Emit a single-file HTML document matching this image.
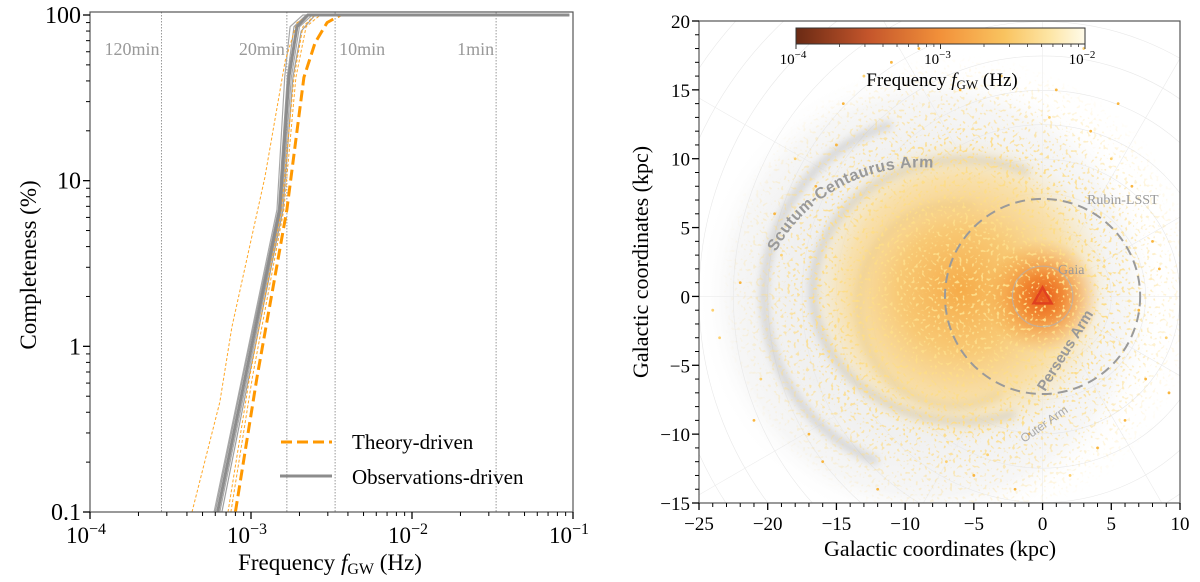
<!DOCTYPE html>
<html><head><meta charset="utf-8"><style>
html,body{margin:0;padding:0;background:#fff;overflow:hidden;width:1200px;height:582px;}
svg{display:block;font-family:"Liberation Serif",serif;}
</style></head><body>
<svg id="fig" width="1200" height="582" viewBox="0 0 1200 582" xmlns="http://www.w3.org/2000/svg">
<defs>
  <linearGradient id="cbar" x1="0" x2="1" y1="0" y2="0">
    <stop offset="0" stop-color="#6a2a14"/><stop offset="0.25" stop-color="#c4552b"/>
    <stop offset="0.5" stop-color="#f2913a"/><stop offset="0.72" stop-color="#f9c35f"/>
    <stop offset="0.88" stop-color="#fde6a6"/><stop offset="1" stop-color="#fffbea"/>
  </linearGradient>
  <radialGradient id="halo" cx="0.5" cy="0.5" r="0.5">
    <stop offset="0" stop-color="#ececec"/><stop offset="0.6" stop-color="#f0f0f0"/>
    <stop offset="0.85" stop-color="#f6f6f6"/><stop offset="1" stop-color="#ffffff" stop-opacity="0"/>
  </radialGradient>
  <radialGradient id="core" cx="0.5" cy="0.5" r="0.5">
    <stop offset="0" stop-color="#f6ab48"/><stop offset="0.4" stop-color="#f9c466" stop-opacity="0.9"/>
    <stop offset="0.75" stop-color="#fcd889" stop-opacity="0.65"/><stop offset="1" stop-color="#fde3a0" stop-opacity="0"/>
  </radialGradient>
  <radialGradient id="sunblob" cx="0.5" cy="0.5" r="0.5">
    <stop offset="0" stop-color="#e85a18"/><stop offset="0.35" stop-color="#f07a22" stop-opacity="0.85"/>
    <stop offset="1" stop-color="#f6a640" stop-opacity="0"/>
  </radialGradient>
  <radialGradient id="speckmask" cx="0.5" cy="0.5" r="0.5">
    <stop offset="0" stop-color="#fff"/><stop offset="0.6" stop-color="#fff"/>
    <stop offset="1" stop-color="#000"/>
  </radialGradient>
  <mask id="smask"><ellipse cx="960" cy="290" rx="240" ry="235" fill="url(#speckmask)"/></mask>
  <filter id="speck" x="0" y="0" width="1" height="1">
    <feTurbulence type="fractalNoise" baseFrequency="0.32" numOctaves="1" seed="3" result="n"/>
    <feColorMatrix in="n" type="matrix" values="0 0 0 0 0.98  0 0 0 0 0.72  0 0 0 0 0.25  0 0 0 10 -5.9"/>
    <feComposite in2="SourceGraphic" operator="in"/>
  </filter>
  <filter id="blur2"><feGaussianBlur stdDeviation="4"/></filter>
  <clipPath id="rclip"><rect x="699" y="21" width="481" height="482"/></clipPath>
  <clipPath id="lclip"><rect x="90" y="12" width="483" height="500"/></clipPath>
</defs>
<g id="left"></g>
<g id="right"></g>
</svg>
<script>
// ---------- LEFT CHART DATA ----------
const periodLabels = ["120min","20min","10min","1min"];
const periodFreqs = [2.78e-4, 1.67e-3, 3.33e-3, 3.33e-2];
const xTickLabels = ["-4","-3","-2","-1"];
const yTickLabels = ["0.1","1","10","100"];
const obsMain = [[6.2e-4,0.1],[9.2e-4,0.65],[1.51e-3,6.7],[1.72e-3,42],[1.93e-3,85],[2.26e-3,100],[0.095,100]];
const theoryMain = [[8.0e-4,0.1],[1.09e-3,0.65],[1.67e-3,6.7],[2.13e-3,42],[2.5e-3,68],[2.97e-3,90],[3.6e-3,100],[0.09,100]];
const theoryA = [[4.3e-4,0.1],[6.4e-4,0.46],[7.6e-4,1.3],[1.22e-3,10.5],[1.63e-3,53],[1.93e-3,90],[2.32e-3,100],[0.09,100]];
const theoryB = [[7.5e-4,0.1],[1.02e-3,0.65],[1.6e-3,6.7],[1.9e-3,42],[2.2e-3,85],[2.7e-3,100],[0.09,100]];
const theoryC = [[7.2e-4,0.1],[9.8e-4,0.65],[1.55e-3,6.7],[1.85e-3,42],[2.1e-3,85],[2.5e-3,100],[0.09,100]];
const obsG1 = [[5.9e-4,0.1],[8.8e-4,0.65],[1.45e-3,6.7],[1.62e-3,42],[1.75e-3,85],[2.1e-3,100],[0.095,100]];
const obsG2 = [[6.0e-4,0.1],[8.9e-4,0.65],[1.48e-3,6.7],[1.68e-3,42],[1.85e-3,85],[2.2e-3,100],[0.095,100]];
const obsG3 = [[6.4e-4,0.1],[9.5e-4,0.65],[1.55e-3,6.7],[1.78e-3,42],[2.0e-3,85],[2.4e-3,100],[0.095,100]];
const obsG4 = [[6.6e-4,0.1],[9.7e-4,0.65],[1.58e-3,6.7],[1.82e-3,42],[2.05e-3,80],[2.5e-3,100],[0.095,100]];

// ---------- RIGHT CHART DATA ----------
const rxTicks = [-25,-20,-15,-10,-5,0,5,10];
const ryTicks = [-15,-10,-5,0,5,10,15,20];
const sunPos = [0,0];
const galCenter = [-8.2,0];
const rubinRadius = 7.1;
const gaiaRadius = 2.2;
const cbarTicks = ["-4","-3","-2"];
const sparseX = [-23.5,-21,-19.5,-18,-16,-14.5,-13,-12,-22,-20.5,-17,-15,-3,1,3.5,5,6.5,8,9,7.5,4,2,-2,-5,-7,6,8.5,-19,-11,-9,3,5.5,-1,-4,7,9.2,-24,-16.5,-6,0.5];
const sparseY = [-3,-9,6,10,-12,14,16,-14,1,-6,-10,11,16,15,12,10,8,4,-3,-6,-11,-13,-14,-13,-12,-9,2,3,17,18,18,14,-10,-11.5,-1,-7,-1,8,15,13];

const NS="http://www.w3.org/2000/svg";
function mk(parent,tag,attrs,text){const e=document.createElementNS(NS,tag);for(const k in attrs)e.setAttribute(k,attrs[k]);if(text!==undefined)e.textContent=text;parent.appendChild(e);return e;}

// ----- left axes -----
const L={x0:90,x1:573,y0:512,y1:15};
function lx(f){return L.x0+(Math.log10(f)+4)/3*(L.x1-L.x0);}
function ly(c){return L.y0-(Math.log10(c)+1)/3*(L.y0-L.y1);}
const lg=document.getElementById('left');
const lplot=mk(lg,'g',{'clip-path':'url(#lclip)'});


periodFreqs.forEach((f,i)=>{
  const l=mk(lplot,'line',{x1:lx(f),x2:lx(f),y1:12,y2:512,stroke:'#999','stroke-width':1,'stroke-dasharray':'1.5,1.5'});
  
  
  const t=mk(lg,'text',{x:lx(f)-2,y:55,'text-anchor':i==2?'start':'end','font-size':18,fill:'#999'},periodLabels[i]);
  if(i==2)t.setAttribute('x',lx(f)+4);
  
  
});
function pathOf(arr){return arr.map((p,i)=>(i?'L':'M')+lx(p[0]).toFixed(1)+','+ly(p[1]).toFixed(1)).join(' ');}
[[obsG1,'#a8a8a8',1.2],[obsG2,'#a0a0a0',1.2],[obsG3,'#a8a8a8',1.2],[obsG4,'#a0a0a0',1.2]].forEach(s=>{
  const p=mk(lplot,'path',{d:pathOf(s[0]),fill:'none',stroke:s[1],'stroke-width':s[2]});
  
  
});
[theoryA,theoryB,theoryC].forEach(s=>{
  const p=mk(lplot,'path',{d:pathOf(s),fill:'none',stroke:'#ffa726','stroke-width':1,'stroke-dasharray':'3,2'});
  
  
});
const pt=mk(lplot,'path',{d:pathOf(theoryMain),fill:'none',stroke:'#ff9800','stroke-width':3,'stroke-dasharray':'11,5'});


const po=mk(lplot,'path',{d:pathOf(obsMain),fill:'none',stroke:'#8c8c8c','stroke-width':3});


const lframe=mk(lg,'rect',{x:L.x0,y:12,width:L.x1-L.x0,height:L.y0-12,fill:'none',stroke:'#555','stroke-width':1.2});


for(let d=-4;d<=-1;d++){
  const x=lx(Math.pow(10,d));
  mk(lg,'line',{x1:x,x2:x,y1:L.y0,y2:L.y0+7,stroke:'#000','stroke-width':1.3});
  if(d<-1)for(let m=2;m<=9;m++){const xm=lx(m*Math.pow(10,d));mk(lg,'line',{x1:xm,x2:xm,y1:L.y0,y2:L.y0+4,stroke:'#000','stroke-width':1});}
  const t=mk(lg,'text',{x:x-4,y:L.y0+31,'text-anchor':'middle','font-size':23},'10');
  mk(t,'tspan',{dy:-9,'font-size':16},'\u2212'+xTickLabels[d+4].replace('-',''));
  
  
}
for(let d=-1;d<=2;d++){
  const y=ly(Math.pow(10,d));
  mk(lg,'line',{x1:L.x0-7,x2:L.x0,y1:y,y2:y,stroke:'#000','stroke-width':1.3});
  if(d<2)for(let m=2;m<=9;m++){const ym=ly(m*Math.pow(10,d));mk(lg,'line',{x1:L.x0-4,x2:L.x0,y1:ym,y2:ym,stroke:'#000','stroke-width':1});}
  const t=mk(lg,'text',{x:L.x0-9,y:y+8,'text-anchor':'end','font-size':24},yTickLabels[d+1]);
  
  
}
const xl=mk(lg,'text',{x:330,y:570,'text-anchor':'middle','font-size':23},'Frequency ');
mk(xl,'tspan',{'font-style':'italic'},'f');
mk(xl,'tspan',{'font-size':16,dy:4},'GW');
mk(xl,'tspan',{dy:-4},' (Hz)');


const yl=mk(lg,'text',{x:0,y:0,'text-anchor':'middle','font-size':23,transform:'translate(36,265) rotate(-90)'},'Completeness (%)');


const leg=mk(lg,'g',{});


const le1=mk(leg,'g',{});


mk(le1,'line',{x1:281,x2:332,y1:442,y2:442,stroke:'#ff9800','stroke-width':3,'stroke-dasharray':'11,5'});
mk(le1,'text',{x:352,y:449,'font-size':21},'Theory-driven');
const le2=mk(leg,'g',{});


mk(le2,'line',{x1:280,x2:332,y1:476,y2:476,stroke:'#8c8c8c','stroke-width':3});
mk(le2,'text',{x:352,y:484,'font-size':21},'Observations-driven');

// ----- right axes -----
const R={x0:699,x1:1180,y0:503,y1:21};
function rx(v){return R.x0+(v+25)/35*(R.x1-R.x0);}
function ry(v){return R.y0-(v+15)/35*(R.y0-R.y1);}
const kpc=(R.x1-R.x0)/35;
const rg=document.getElementById('right');
const rp=mk(rg,'g',{'clip-path':'url(#rclip)'});


const gcx=rx(galCenter[0]),gcy=ry(galCenter[1]);
const halo=mk(rp,'circle',{cx:gcx,cy:gcy,r:17*kpc,fill:'url(#halo)'});


const sx=rx(sunPos[0]),sy=ry(sunPos[1]);
for(let r=2.5;r<=30;r+=2.5){mk(rp,'circle',{cx:sx,cy:sy,r:r*kpc,fill:'none',stroke:'#e8e8e8','stroke-width':0.6});}
for(let a=0;a<360;a+=30){const t=a*Math.PI/180;mk(rp,'line',{x1:sx,y1:sy,x2:sx+Math.cos(t)*700,y2:sy+Math.sin(t)*700,stroke:'#ebebeb','stroke-width':0.6});}
const arms=mk(rp,'g',{filter:'url(#blur2)',fill:'none',stroke:'#9a9a9a','stroke-opacity':0.35});


mk(arms,'path',{d:`M ${rx(-2)} ${ry(-8.5)} A ${11*kpc} ${9.5*kpc} 0 1 1 ${rx(-1)} ${ry(9)}`,'stroke-width':8});
mk(arms,'path',{d:`M ${rx(-3)} ${ry(-7)} A ${7*kpc} ${7.3*kpc} 0 1 1 ${rx(-5)} ${ry(6.5)}`,'stroke-width':7});
mk(arms,'path',{d:`M ${rx(-12)} ${ry(-12)} A ${13*kpc} ${13*kpc} 0 0 1 ${rx(-11)} ${ry(12.5)}`,'stroke-width':8});
const cd=mk(rp,'ellipse',{cx:rx(-6),cy:ry(0.5),rx:11*kpc,ry:11*kpc,fill:'url(#core)'});


const sb=mk(rp,'circle',{cx:sx,cy:sy,r:4.2*kpc,fill:'url(#sunblob)'});


const spg=mk(rp,'g',{mask:'url(#smask)'});
const sp=mk(spg,'rect',{x:699,y:21,width:481,height:482,fill:'#fff',filter:'url(#speck)'});


sparseX.forEach((x,i)=>{
  const c=mk(rp,'circle',{cx:rx(x),cy:ry(sparseY[i]),r:1.4,fill:i%3?'#f9b53e':'#fdd06e'});
  
  
});
const rub=mk(rp,'circle',{cx:sx,cy:sy,r:rubinRadius*kpc,fill:'none',stroke:'#9a9a9a','stroke-width':2,'stroke-dasharray':'10,6'});


const ga=mk(rp,'circle',{cx:sx,cy:sy,r:gaiaRadius*kpc,fill:'none',stroke:'#b0b0b0','stroke-width':1.2,'stroke-opacity':0.7});


const tri=mk(rp,'path',{d:`M ${sx} ${sy-9} L ${sx+9} ${sy+7} L ${sx-9} ${sy+7} Z`,fill:'#e8541f','fill-opacity':0.6,stroke:'#e0401f','stroke-width':2.5});


const t1=mk(rp,'text',{x:1087,y:204,'font-size':14,fill:'#999'},'Rubin-LSST');
 
const t2=mk(rp,'text',{x:1058,y:274,'font-size':14,fill:'#999'},'Gaia');
 
mk(rp,'path',{id:'scpath',d:`M 776 252 A 160 150 0 0 1 935 168`,fill:'none'});
const t3=mk(rp,'text',{'font-size':16,fill:'#999','font-family':'Liberation Sans, sans-serif','font-weight':'bold','letter-spacing':0.5});
mk(t3,'textPath',{href:'#scpath'},'Scutum-Centaurus Arm');
 
const t4=mk(rp,'text',{x:0,y:0,'font-size':15,fill:'#999','font-family':'Liberation Sans, sans-serif','font-weight':'bold',transform:'translate(1045,392) rotate(-58)'},'Perseus Arm');
 
const t5=mk(rp,'text',{x:0,y:0,'font-size':12,fill:'#aaa','font-family':'Liberation Sans, sans-serif',transform:'translate(1024,443) rotate(-35)'},'Outer Arm');
 
const rf=mk(rg,'rect',{x:R.x0,y:R.y1,width:R.x1-R.x0,height:R.y0-R.y1,fill:'none',stroke:'#555','stroke-width':1.2});


for(let v=-25;v<=10;v++){const x=rx(v);const maj=v%5==0;mk(rg,'line',{x1:x,x2:x,y1:R.y0,y2:R.y0+(maj?7:4),stroke:'#000','stroke-width':maj?1.3:1});}
for(let v=-15;v<=20;v++){const y=ry(v);const maj=v%5==0;mk(rg,'line',{x1:R.x0-(maj?7:4),x2:R.x0,y1:y,y2:y,stroke:'#000','stroke-width':maj?1.3:1});}
rxTicks.forEach(v=>{const t=mk(rg,'text',{x:rx(v),y:R.y0+27,'text-anchor':'middle','font-size':19},(v<0?'\u2212':'')+Math.abs(v));
   });
ryTicks.forEach(v=>{const t=mk(rg,'text',{x:R.x0-9,y:ry(v)+7,'text-anchor':'end','font-size':19},(v<0?'\u2212':'')+Math.abs(v));
   });
const rxl=mk(rg,'text',{x:940,y:556,'text-anchor':'middle','font-size':22},'Galactic coordinates (kpc)');
 
const ryl=mk(rg,'text',{x:0,y:0,'text-anchor':'middle','font-size':22,transform:'translate(648,262) rotate(-90)'},'Galactic coordinates (kpc)');
 
const cb=mk(rg,'g',{});


mk(cb,'rect',{x:796,y:28,width:289,height:16,fill:'url(#cbar)',stroke:'#333','stroke-width':1});
for(let d=0;d<2;d++){for(let m=2;m<=9;m++){const x=796+(d+Math.log10(m))/2*289;mk(cb,'line',{x1:x,x2:x,y1:44,y2:47,stroke:'#333','stroke-width':0.8});}}
cbarTicks.forEach((lab,i)=>{const x=796+i/2*289;mk(cb,'line',{x1:x,x2:x,y1:44,y2:49,stroke:'#333','stroke-width':1});
  const t=mk(cb,'text',{x:x-3,y:64,'text-anchor':'middle','font-size':15},'10');mk(t,'tspan',{dy:-6,'font-size':11},'\u2212'+lab.replace('-',''));});
const cl=mk(cb,'text',{x:942,y:86,'text-anchor':'middle','font-size':19},'Frequency ');
mk(cl,'tspan',{'font-style':'italic'},'f');mk(cl,'tspan',{'font-size':13,dy:3},'GW');mk(cl,'tspan',{dy:-3},' (Hz)');
</script>
</body></html>
